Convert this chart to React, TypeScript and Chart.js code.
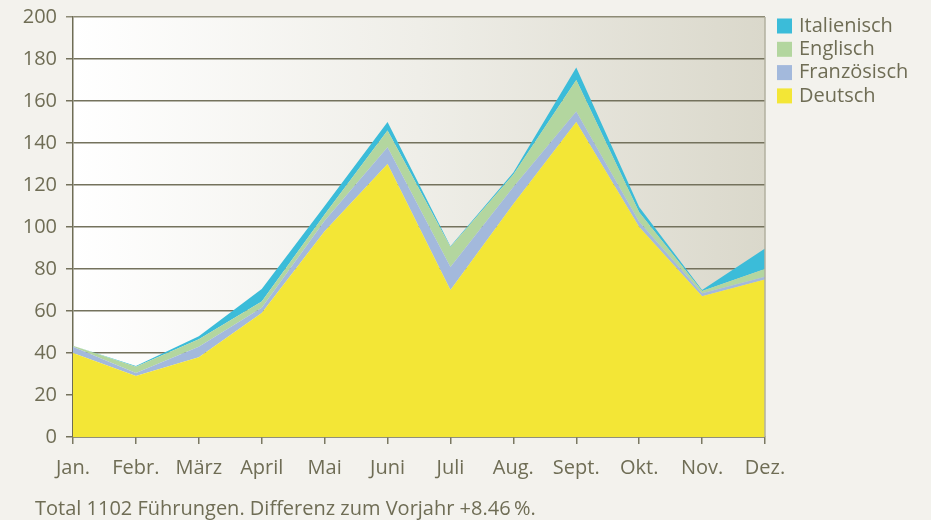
import React, { useEffect, useRef } from "react";
import { Chart, registerables } from "chart.js";

Chart.register(...registerables);

const months = ["Jan.", "Febr.", "März", "April", "Mai", "Juni", "Juli", "Aug.", "Sept.", "Okt.", "Nov.", "Dez."];
const deutsch = [40, 29, 38, 59, 98, 130, 70, 111, 150, 100, 67, 75];
const franzoesisch = [3, 1.5, 5, 2.5, 5, 8, 11, 8, 5, 2.5, 1.5, 1.3];
const englisch = [0.5, 3, 3.5, 3, 3, 8, 9.5, 6, 15, 4.5, 1, 3.7];
const italienisch = [0, 0.3, 1.5, 6, 4, 4, 0.3, 1, 6, 2.5, 0.5, 9.8];
const yTicks = [0, 20, 40, 60, 80, 100, 120, 140, 160, 180, 200];
const footnote = "Total 1102 Führungen. Differenz zum Vorjahr +8.46\u2009%.";

const TEXT = "#6f6d55";
const FONT = "'Open Sans', 'Noto Sans', sans-serif";
const COLORS = {
  deutsch: "#f3e636",
  franz: "#a3b9dc",
  englisch: "#b3d69f",
  ital: "#3bbcd9",
};

const legendItems = [
  { label: "Italienisch", color: COLORS.ital },
  { label: "Englisch", color: COLORS.englisch },
  { label: "Französisch", color: COLORS.franz },
  { label: "Deutsch", color: COLORS.deutsch },
];

const bgPlugin = {
  id: "bgPlugin",
  beforeDraw(chart: any) {
    const { ctx, chartArea } = chart;
    ctx.save();
    ctx.fillStyle = "#f3f2ed";
    ctx.fillRect(0, 0, chart.width, chart.height);
    const g = ctx.createLinearGradient(chartArea.left, 0, chartArea.right, 0);
    g.addColorStop(0, "#ffffff");
    g.addColorStop(0.5, "#efeee8");
    g.addColorStop(1, "#dad8cb");
    ctx.fillStyle = g;
    ctx.fillRect(chartArea.left, chartArea.top, chartArea.right - chartArea.left, chartArea.bottom - chartArea.top);
    ctx.restore();
  },
  afterDraw(chart: any) {
    const { ctx, chartArea } = chart;
    ctx.save();
    // right border
    ctx.strokeStyle = "#b2b09f";
    ctx.lineWidth = 1.5;
    ctx.beginPath();
    ctx.moveTo(chartArea.right, chartArea.top);
    ctx.lineTo(chartArea.right, chartArea.bottom);
    ctx.stroke();
    // legend
    ctx.font = `20px ${FONT}`;
    ctx.textBaseline = "middle";
    ctx.textAlign = "left";
    legendItems.forEach((it, i) => {
      const cy = 26 + i * 23.3;
      ctx.fillStyle = it.color;
      ctx.fillRect(777, cy - 7.5, 15, 15);
      ctx.fillStyle = TEXT;
      ctx.fillText(it.label, 799, cy);
    });
    // footnote
    ctx.textBaseline = "alphabetic";
    ctx.fillText(footnote, 35, 515);
    ctx.restore();
  },
};

export default function App() {
  const ref = useRef<HTMLCanvasElement>(null);

  useEffect(() => {
    if (!ref.current) return;
    const ds = (label: string, data: number[], color: string, fill: any) => ({
      label,
      data,
      backgroundColor: color,
      borderColor: color,
      borderWidth: 0,
      pointRadius: 0,
      tension: 0,
      fill,
    });
    const chart = new Chart(ref.current, {
      type: "line",
      data: {
        labels: months,
        datasets: [
          ds("Deutsch", deutsch, COLORS.deutsch, "origin"),
          ds("Französisch", franzoesisch, COLORS.franz, "-1"),
          ds("Englisch", englisch, COLORS.englisch, "-1"),
          ds("Italienisch", italienisch, COLORS.ital, "-1"),
        ],
      },
      options: {
        responsive: false,
        animation: false,
        layout: { padding: { left: 0, top: 17, right: 166, bottom: 0 } },
        plugins: {
          legend: { display: false },
          tooltip: { enabled: false },
          title: { display: false },
        },
        scales: {
          x: {
            type: "category",
            offset: false,
            afterFit(scale: any) {
              scale.height = 83;
              scale.paddingLeft = 0;
              scale.paddingRight = 0;
            },
            grid: {
              drawOnChartArea: false,
              drawTicks: true,
              tickLength: 7,
              color: "#7a7862",
              lineWidth: 1.5,
            },
            border: { color: "#6f6d55", width: 1.5 },
            ticks: {
              autoSkip: false,
              maxRotation: 0,
              minRotation: 0,
              padding: 12,
              color: TEXT,
              font: { family: FONT, size: 20 },
            },
          },
          y: {
            stacked: true,
            min: 0,
            max: 200,
            afterFit(scale: any) {
              scale.width = 73;
              scale.paddingTop = 0;
              scale.paddingBottom = 0;
            },
            afterBuildTicks(scale: any) {
              scale.ticks = yTicks.map((v) => ({ value: v }));
            },
            grid: {
              drawTicks: true,
              tickLength: 7,
              lineWidth: 1.5,
              color: (c: any) => (c.tick && c.tick.value === 200 ? "#8d8b76" : "#74725d"),
            },
            border: { color: "#6f6d55", width: 1.5 },
            ticks: {
              padding: 9,
              color: TEXT,
              font: { family: FONT, size: 20 },
            },
          },
        },
      },
      plugins: [bgPlugin],
    });
    return () => chart.destroy();
  }, []);

  return (
    <div style={{ position: "absolute", left: 0, top: 0, width: 931, height: 520, background: "#f3f2ed" }}>
      <canvas ref={ref} width={931} height={520} style={{ display: "block" }} />
    </div>
  );
}
